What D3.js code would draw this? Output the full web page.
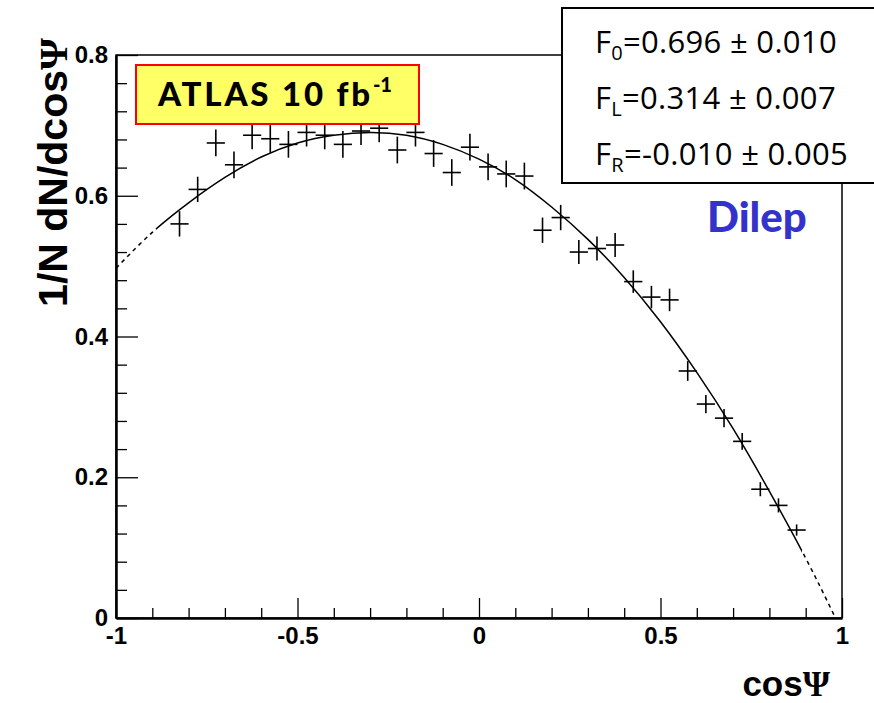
<!DOCTYPE html>
<html>
<head>
<meta charset="utf-8">
<script src="https://cdn.jsdelivr.net/npm/d3@7"></script>
<style>
  body { margin: 0; background: #fff; }
  svg { display: block; }
</style>
</head>
<body>
<div id="chart"></div>
<script>
// cos(psi) histogram, dilepton channel
const binCenters = [
  -0.825, -0.775, -0.725, -0.675, -0.625, -0.575, -0.525, -0.475, -0.425, -0.375,
  -0.325, -0.275, -0.225, -0.175, -0.125, -0.075, -0.025, 0.025, 0.075, 0.125,
  0.175, 0.225, 0.275, 0.325, 0.375, 0.425, 0.475, 0.525, 0.575, 0.625,
  0.675, 0.725, 0.775, 0.825, 0.875
];
const binWidth = 0.05;
const values = [
  0.560, 0.609, 0.675, 0.644, 0.686, 0.681, 0.673, 0.690, 0.686, 0.673,
  0.692, 0.696, 0.665, 0.690, 0.660, 0.633, 0.669, 0.641, 0.631, 0.628,
  0.551, 0.569, 0.520, 0.525, 0.530, 0.478, 0.456, 0.452, 0.351, 0.304,
  0.284, 0.251, 0.183, 0.160, 0.125
];
const errors = [
  0.018, 0.018, 0.019, 0.019, 0.020, 0.020, 0.019, 0.020, 0.020, 0.019,
  0.020, 0.020, 0.019, 0.020, 0.019, 0.019, 0.019, 0.019, 0.019, 0.019,
  0.018, 0.018, 0.017, 0.017, 0.017, 0.016, 0.016, 0.016, 0.014, 0.013,
  0.013, 0.012, 0.010, 0.010, 0.008
];

// fitted curve
const fitX = [-1, -0.9, -0.8, -0.7, -0.6, -0.5, -0.4, -0.3, -0.2, -0.1, 0,
  0.1, 0.2, 0.3, 0.4, 0.5, 0.6, 0.7, 0.8, 0.9, 0.982];
const fitY = [0.497, 0.548, 0.590, 0.626, 0.655, 0.675, 0.686, 0.690, 0.686, 0.673, 0.652,
  0.623, 0.584, 0.538, 0.484, 0.421, 0.349, 0.269, 0.180, 0.085, 0];
const fitRange = [-0.89, 0.89];

const xTicks = [-1, -0.5, 0, 0.5, 1];
const xTickLabels = ["-1", "-0.5", "0", "0.5", "1"];
const yTicks = [0, 0.2, 0.4, 0.6, 0.8];
const yTickLabels = ["0", "0.2", "0.4", "0.6", "0.8"];

const fracNames = ["0", "L", "R"];
const fracValues = ["0.696", "0.314", "-0.010"];
const fracErrors = ["0.010", "0.007", "0.005"];

const width = 874;
const height = 703;
const plot = { left: 116, right: 842, top: 55, bottom: 618 };

const svg = d3.select("#chart").append("svg")
    .attr("width", width)
    .attr("height", height);

const x = d3.scaleLinear().domain([-1, 1]).range([plot.left, plot.right]);
const y = d3.scaleLinear().domain([0, 0.8]).range([plot.bottom, plot.top]);

const tickFont = "'Liberation Sans', Arial, sans-serif";
const comicFont = "'Comic Sans MS', Lato, sans-serif";

// frame
svg.append("rect")
    .attr("x", plot.left).attr("y", plot.top)
    .attr("width", plot.right - plot.left).attr("height", plot.bottom - plot.top)
    .attr("fill", "none")
    .attr("stroke", "#000")
    .attr("stroke-width", 1.5);

// minor ticks
const xMinor = d3.range(-9, 10).map(i => i / 10).filter(v => Math.abs(v * 2 - Math.round(v * 2)) > 1e-6);
const yMinor = d3.range(1, 20).map(i => i * 0.04).filter(v => Math.abs(v * 5 - Math.round(v * 5)) > 1e-6);

svg.append("g")
    .attr("transform", `translate(0,${plot.bottom})`)
    .call(d3.axisBottom(x).tickValues(xMinor).tickSize(-10).tickFormat(""))
    .call(g => g.select(".domain").remove());

svg.append("g")
    .attr("transform", `translate(${plot.left},0)`)
    .call(d3.axisLeft(y).tickValues(yMinor).tickSize(-11).tickFormat(""))
    .call(g => g.select(".domain").remove());

// major axes
const xAxis = svg.append("g")
    .attr("transform", `translate(0,${plot.bottom})`)
    .call(d3.axisBottom(x)
        .tickValues(xTicks)
        .tickSize(-20)
        .tickSizeOuter(0)
        .tickPadding(9)
        .tickFormat((d, i) => xTickLabels[i]));

const yAxis = svg.append("g")
    .attr("transform", `translate(${plot.left},0)`)
    .call(d3.axisLeft(y)
        .tickValues(yTicks)
        .tickSize(-22)
        .tickSizeOuter(0)
        .tickPadding(8)
        .tickFormat((d, i) => yTickLabels[i]));

svg.selectAll(".tick line").attr("stroke", "#000").attr("stroke-width", 1.3);
[xAxis, yAxis].forEach(g => {
    g.select(".domain").attr("stroke", "#000").attr("stroke-width", 2.5);
    g.selectAll("text")
        .attr("fill", "#000")
        .style("font-family", tickFont)
        .style("font-weight", "bold")
        .style("font-size", "24px");
});

// axis titles
const xTitle = svg.append("text")
    .attr("x", 830)
    .attr("y", 696)
    .attr("text-anchor", "end")
    .style("font-family", tickFont)
    .style("font-weight", "bold")
    .style("font-size", "35px")
    .text("cos");
xTitle.append("tspan")
    .style("font-family", "'Liberation Serif', 'DejaVu Serif', serif")
    .text("Ψ");

const yTitle = svg.append("text")
    .attr("transform", "translate(67,38) rotate(-90)")
    .attr("text-anchor", "end")
    .style("font-family", tickFont)
    .style("font-weight", "bold")
    .style("font-size", "41px")
    .text("1/N dN/dcos");
yTitle.append("tspan")
    .style("font-family", "'Liberation Serif', 'DejaVu Serif', serif")
    .text("Ψ");

// fit curve: solid inside the fit range, dashed outside
const defs = svg.append("defs");
defs.append("clipPath").attr("id", "fit-in")
    .append("rect")
    .attr("x", x(fitRange[0])).attr("y", 0)
    .attr("width", x(fitRange[1]) - x(fitRange[0])).attr("height", height);
const outClip = defs.append("clipPath").attr("id", "fit-out");
outClip.append("rect")
    .attr("x", 0).attr("y", 0)
    .attr("width", x(fitRange[0])).attr("height", height);
outClip.append("rect")
    .attr("x", x(fitRange[1])).attr("y", 0)
    .attr("width", width - x(fitRange[1])).attr("height", height);

const fitPoints = fitX.map((v, i) => [v, fitY[i]]);
const line = d3.line()
    .x(d => x(d[0]))
    .y(d => y(d[1]))
    .curve(d3.curveNatural);

svg.append("path")
    .datum(fitPoints)
    .attr("d", line)
    .attr("fill", "none")
    .attr("stroke", "#000")
    .attr("stroke-width", 1.5)
    .attr("clip-path", "url(#fit-in)");

svg.append("path")
    .datum(fitPoints)
    .attr("d", line)
    .attr("fill", "none")
    .attr("stroke", "#000")
    .attr("stroke-width", 1.5)
    .attr("stroke-dasharray", "4,4")
    .attr("clip-path", "url(#fit-out)");

// data points with error bars
const pts = svg.append("g")
    .selectAll("g")
    .data(binCenters.map((c, i) => ({ c, v: values[i], e: errors[i] })))
    .join("g")
    .attr("stroke", "#000")
    .attr("stroke-width", 1.6);

pts.append("line")
    .attr("x1", d => x(d.c - binWidth / 2))
    .attr("x2", d => x(d.c + binWidth / 2))
    .attr("y1", d => y(d.v))
    .attr("y2", d => y(d.v));

pts.append("line")
    .attr("x1", d => x(d.c))
    .attr("x2", d => x(d.c))
    .attr("y1", d => y(d.v - d.e))
    .attr("y2", d => y(d.v + d.e));

// ATLAS label
const atlas = svg.append("g");
atlas.append("rect")
    .attr("x", 136).attr("y", 65)
    .attr("width", 283).attr("height", 59)
    .attr("fill", "#ffff66")
    .attr("stroke", "#ff0000")
    .attr("stroke-width", 2);
const atlasText = atlas.append("text")
    .attr("x", 158).attr("y", 106)
    .style("font-family", comicFont)
    .style("font-weight", "900")
    .style("font-size", "33px")
    .style("letter-spacing", "2.8px")
    .attr("fill", "#000")
    .text("ATLAS 10 fb");
atlasText.append("tspan")
    .attr("dy", -14)
    .style("font-size", "20px")
    .style("letter-spacing", "0px")
    .text("-1");

// fit result box
const box = svg.append("g");
box.append("rect")
    .attr("x", 562).attr("y", 8)
    .attr("width", 330).attr("height", 175)
    .attr("fill", "#fff")
    .attr("stroke", "#000")
    .attr("stroke-width", 2);

fracNames.forEach((name, i) => {
    const t = box.append("text")
        .attr("x", 595)
        .attr("y", 53 + i * 56)
        .style("font-family", "'Comic Sans MS', 'Open Sans', sans-serif")
        .style("font-size", "31px")
        .style("letter-spacing", "0.3px")
        .attr("fill", "#000")
        .text("F");
    t.append("tspan")
        .attr("dy", 7)
        .style("font-size", "20px")
        .text(name);
    t.append("tspan")
        .attr("dy", -7)
        .text(`=${fracValues[i]} ± ${fracErrors[i]}`);
});

svg.append("text")
    .attr("x", 707)
    .attr("y", 232)
    .style("font-family", comicFont)
    .style("font-weight", "900")
    .style("font-size", "42px")
    .attr("fill", "#3333cc")
    .text("Dilep");
</script>
</body>
</html>
